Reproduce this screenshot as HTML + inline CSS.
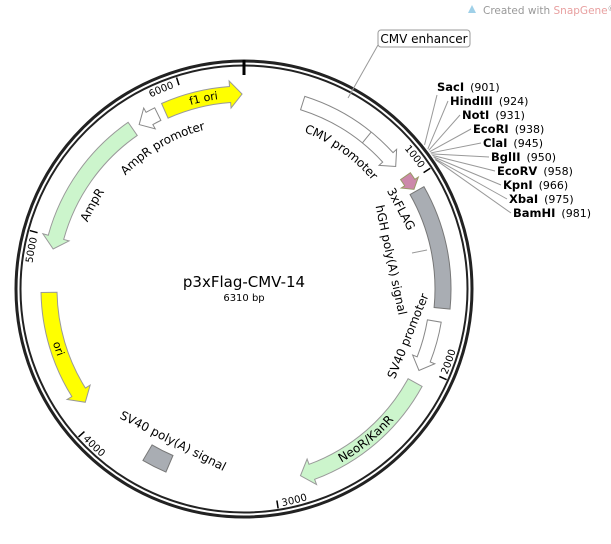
<!DOCTYPE html>
<html><head><meta charset="utf-8"><style>
html,body{margin:0;padding:0;background:#fff;width:611px;height:544px;overflow:hidden}
svg{display:block;font-family:"DejaVu Sans","Liberation Sans",sans-serif}
</style></head><body>
<svg id="s" width="611" height="544" viewBox="0 0 611 544" xmlns="http://www.w3.org/2000/svg"></svg>
<script>
const CX=244,CY=289,L=6310;
function pol(r,p){const a=p/L*2*Math.PI;return [CX+r*Math.sin(a),CY-r*Math.cos(a)];}
function f(v){return v[0].toFixed(2)+","+v[1].toFixed(2);}
function arc(r,p1,p2,cw){const d=Math.abs(p2-p1)/L*360;return "A"+r+","+r+" 0 "+(d>180?1:0)+","+(cw?1:0)+" "+f(pol(r,p2));}
let out="";let pid=0;
function feat(p1,p2,r,w,fill,stroke,dir,hl){
  const h=w/2;const hd=(hl||12)/r*L/(2*Math.PI);
  let d;
  if(dir===1){const pb=p2-hd;
    d="M"+f(pol(r+h,p1))+arc(r+h,p1,pb,1)+"L"+f(pol(r+w*0.85,pb))+"L"+f(pol(r,p2))+"L"+f(pol(r-w*0.85,pb))+"L"+f(pol(r-h,pb))+arc(r-h,pb,p1,0)+"Z";}
  else if(dir===-1){const pb=p1+hd;
    d="M"+f(pol(r+h,p2))+arc(r+h,p2,pb,0)+"L"+f(pol(r+w*0.85,pb))+"L"+f(pol(r,p1))+"L"+f(pol(r-w*0.85,pb))+"L"+f(pol(r-h,pb))+arc(r-h,pb,p2,1)+"Z";}
  else {d="M"+f(pol(r+h,p1))+arc(r+h,p1,p2,1)+"L"+f(pol(r-h,p2))+arc(r-h,p2,p1,0)+"Z";}
  out+='<path d="'+d+'" fill="'+fill+'" stroke="'+stroke+'" stroke-width="1"/>';
}
function atext(txt,r,pc,cw,size){
  const id="p"+(pid++);const span=1500;
  const a=pc-span/2,b=pc+span/2;
  const d=cw?("M"+f(pol(r,a))+arc(r,a,b,1)):("M"+f(pol(r,b))+arc(r,b,a,0));
  out+='<path id="'+id+'" d="'+d+'" fill="none"/>';
  out+='<text font-size="'+size+'" fill="#000"><textPath href="#'+id+'" startOffset="50%" text-anchor="middle" dominant-baseline="central">'+txt+'</textPath></text>';
}
function rtext(txt,x,y,rot,size){
  out+='<text x="'+x+'" y="'+y+'" font-size="'+size+'" text-anchor="middle" dominant-baseline="central" transform="rotate('+rot+' '+x+' '+y+')">'+txt+'</text>';
}
feat(5890,6300,195,16,"#ffff00","#999",1);
feat(5740,5850,195,14,"#fff","#888",-1);
feat(4940,5700,195,16,"#ccf5cc","#999",-1);
feat(4110,4715,195,16,"#ffff00","#999",-1);
feat(307,895,195,14,"#fff","#888",1);
{const a=pol(188,684),b=pol(202,684);out+='<line x1="'+a[0]+'" y1="'+a[1]+'" x2="'+b[0]+'" y2="'+b[1]+'" stroke="#888"/>';}
feat(965,1045,197,12,"#cc88aa","#996",1,8);
feat(1058,1675,199,16,"#a9adb3","#777",0);
feat(1745,2015,193,14,"#fff","#888",1);
feat(2080,2860,195,16,"#ccf5cc","#999",1);
feat(3560,3690,190,18,"#a9adb3","#777",0);
out+='<circle cx="'+CX+'" cy="'+CY+'" r="228" fill="none" stroke="#222" stroke-width="3"/>';
out+='<circle cx="'+CX+'" cy="'+CY+'" r="223.5" fill="none" stroke="#222" stroke-width="2"/>';
out+='<line x1="'+CX+'" y1="'+(CY-229)+'" x2="'+CX+'" y2="'+(CY-214)+'" stroke="#000" stroke-width="3"/>';
[1000,2000,3000,4000,5000,6000].forEach(t=>{
  const a=pol(222,t),b=pol(214,t);
  out+='<line x1="'+a[0]+'" y1="'+a[1]+'" x2="'+b[0]+'" y2="'+b[1]+'" stroke="#000" stroke-width="1.5"/>';
  const id="p"+(pid++);const cw=(t<1600||t>4700);
  if(cw){const d="M"+f(pol(213,t-700))+arc(213,t-700,t-25,1);
    out+='<path id="'+id+'" d="'+d+'" fill="none"/><text font-size="10"><textPath href="#'+id+'" startOffset="100%" text-anchor="end">'+t+'</textPath></text>';}
  else{const d="M"+f(pol(214,t-20))+arc(214,t-20,t-700,0);
    out+='<path id="'+id+'" d="'+d+'" fill="none"/><text font-size="10"><textPath href="#'+id+'" startOffset="0" text-anchor="start" dominant-baseline="hanging">'+t+'</textPath></text>';}
});
atext("f1 ori",195,6100,1,11);
atext("AmpR promoter",168,5785,1,12);
atext("AmpR",174,5240,1,12);
atext("ori",195,4420,0,11);
atext("CMV promoter",172,620,1,12);
rtext("3xFLAG",401,209,62,12);
rtext("hGH poly(A) signal",391,260,78,12);
out+='<line x1="412" y1="253" x2="427" y2="250" stroke="#999"/>';
rtext("SV40 promoter",408,336,-68,12);
atext("NeoR/KanR",195,2470,0,12);
rtext("SV40 poly(A) signal",173,441,27,12);
out+='<line x1="348" y1="98" x2="378" y2="45" stroke="#999"/>';
out+='<rect x="378" y="30" width="92" height="17" rx="3" fill="#fff" stroke="#999"/>';
out+='<text x="424" y="43" font-size="12" text-anchor="middle">CMV enhancer</text>';
const S=[["SacI","901",437,91],["HindIII","924",450,105],["NotI","931",462,119],["EcoRI","938",473,133],["ClaI","945",483,147],["BglII","950",491,161],["EcoRV","958",497,175],["KpnI","966",503,189],["XbaI","975",509,203],["BamHI","981",513,217]];
S.forEach(s=>{const p=+s[1];const a=pol(231,p);
  const ex=s[0]=="SacI"?437:s[2]-2, ey=s[0]=="SacI"?s[3]+4:s[3]-4;
  out+='<line x1="'+a[0]+'" y1="'+a[1]+'" x2="'+ex+'" y2="'+ey+'" stroke="#999" stroke-width="1"/>';
  out+='<text x="'+s[2]+'" y="'+s[3]+'" font-size="11.5"><tspan font-weight="bold">'+s[0]+'</tspan><tspan font-size="11" dx="6">('+s[1]+')</tspan></text>';
});
out+='<text x="244" y="287" font-size="15" text-anchor="middle">p3xFlag-CMV-14</text>';
out+='<text x="244" y="301" font-size="10" text-anchor="middle">6310 bp</text>';
out+='<path d="M468,13 l4,-8 l4,8 z" fill="#9fd0e8"/>';
out+='<text x="483" y="14" font-size="10.5" fill="#999">Created with <tspan fill="#e8a0a0">SnapGene</tspan><tspan font-size="7" dy="-3">®</tspan></text>';
document.getElementById("s").innerHTML=out;
</script>
</body></html>
